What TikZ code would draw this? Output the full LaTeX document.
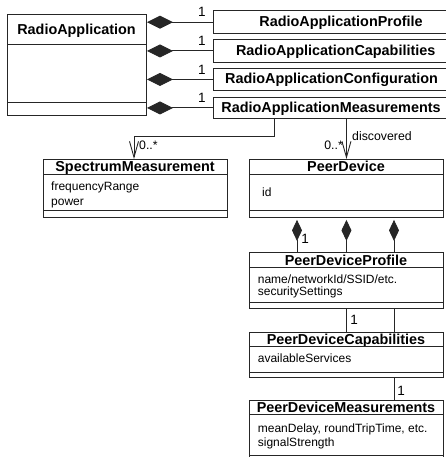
\documentclass[tikz,border=0pt]{standalone}
\usepackage{fontspec}
\setmainfont{Liberation Sans}
\usetikzlibrary{arrows.meta}
\begin{document}
\begin{tikzpicture}[x=1pt,y=-1pt,
  lc/.style={draw=black!85, line width=0.9pt},
  cls/.style={lc, rectangle, inner sep=0pt, anchor=north west},
  hdr/.style={font=\fontsize{14.4}{16}\selectfont\bfseries, anchor=base, inner sep=0pt},
  attr/.style={font=\fontsize{12}{15}\selectfont, anchor=base west, inner sep=0pt},
  lbl/.style={font=\fontsize{12.3}{14}\selectfont, inner sep=0pt},
  one/.style={font=\fontsize{13.5}{15}\selectfont, inner sep=0pt},
  hcomp/.style={lc, {Diamond[length=26pt,width=13pt]}-},
  vcomp/.style={lc, {Diamond[length=21pt,width=10pt]}-, shorten <=2pt},
  assoc/.style={lc, -{Straight Barb[length=16pt,width=9pt]}}]
\useasboundingbox (0,0) rectangle (446,457);

% RadioApplication
\node[cls, minimum width=139pt, minimum height=101pt] (ra) at (7,14.5) {};
\node[hdr] (raT) at (76.5,35) {RadioApplication};
\draw[lc] (7,44.5) -- (146,44.5);
\draw[lc] (7,102.5) -- (146,102.5);

% right boxes
\node[cls, minimum width=256pt, minimum height=22.5pt] (rap) at (213,10.5) {};
\node[hdr] (rapT) at (341,26.7) {RadioApplicationProfile};
\node[cls, minimum width=256pt, minimum height=23pt] (rac) at (213,39) {};
\node[hdr] (racT) at (335.7,55.5) {RadioApplicationCapabilities};
\node[cls, minimum width=256pt, minimum height=22pt] (racf) at (213,68) {};
\node[hdr] (racfT) at (331.5,84) {RadioApplicationConfiguration};
\node[cls, minimum width=256pt, minimum height=21pt] (ram) at (213,97) {};
\node[hdr] (ramT) at (331,112.5) {RadioApplicationMeasurements};

% compositions at top
\draw[hcomp] (ra.east |- rap.west) -- (rap.west);
\draw[hcomp] (ra.east |- rac.west) -- (rac.west);
\draw[hcomp] (ra.east |- racf.west) -- (racf.west);
\draw[hcomp] (ra.east |- ram.west) -- (ram.west);
\node[one] (o1) at (202,11.7) {1};
\node[one] (o2) at (202,40.7) {1};
\node[one] (o3) at (202,69.5) {1};
\node[one] (o4) at (202,98.3) {1};

% SpectrumMeasurement
\node[cls, minimum width=184pt, minimum height=58pt] (sm) at (43,159) {};
\node[hdr] (smT) at (135,171.6) {SpectrumMeasurement};
\draw[lc] (43,174.3) -- (227,174.3);
\draw[lc] (43,210) -- (227,210);
\node[attr] (smA1) at (51,190) {frequencyRange};
\node[attr] (smA2) at (51,205) {power};

% PeerDevice
\node[cls, minimum width=194pt, minimum height=58pt] (pd) at (249,159) {};
\node[hdr] (pdT) at (346,171.6) {PeerDevice};
\draw[lc] (249,174.3) -- (443,174.3);
\draw[lc] (249,210) -- (443,210);
\node[attr] (pdA) at (262,196) {id};

% associations
\coordinate (k1) at (274,136);
\coordinate (k2) at (134,136);
\draw[assoc] (ram.south -| k1) -- (k1) -- (k2) -- (sm.north -| k2);
\node[lbl, anchor=west] (m1) at (139,145) {0..*};
\draw[assoc] (ram.south -| pd.north) -- (pd.north);
\node[lbl, anchor=east] (m2) at (343,145) {0..*};
\node[lbl, anchor=west] (disc) at (352,136) {discovered};

% PeerDeviceProfile
\node[cls, minimum width=194pt, minimum height=56.3pt] (pdp) at (249,251.7) {};
\node[hdr] (pdpT) at (346,265.5) {PeerDeviceProfile};
\draw[lc] (249,267) -- (443,267);
\draw[lc] (249,302) -- (443,302);
\node[attr] (pdpA1) at (257.7,283) {name/networkId/SSID/etc.};
\node[attr] (pdpA2) at (257.7,295) {securitySettings};

% compositions PeerDevice -> Profile
\coordinate (c1) at (297,0);
\coordinate (c3) at (394,0);
\draw[vcomp] (pd.south -| c1) -- (pdp.north -| c1);
\draw[vcomp] (pd.south) -- (pdp.north);
\draw[vcomp] (pd.south -| c3) -- (pdp.north -| c3);
\node[one] (o5) at (305,239) {1};

% PeerDeviceCapabilities
\node[cls, minimum width=194pt, minimum height=45pt] (pdc) at (249,332) {};
\node[hdr] (pdcT) at (346,344) {PeerDeviceCapabilities};
\draw[lc] (249,346) -- (443,346);
\draw[lc] (249,372) -- (443,372);
\node[attr] (pdcA) at (257.7,362.5) {availableServices};

\draw[lc] (pdp.south) -- (pdc.north);
\draw[lc] (pdp.south -| c3) -- (pdc.north -| c3);
\node[one] (o6) at (354,320) {1};

% PeerDeviceMeasurements
\node[cls, minimum width=194pt, minimum height=70pt] (pdm) at (249,400) {};
\node[hdr] (pdmT) at (346,412.5) {PeerDeviceMeasurements};
\draw[lc] (249,414.5) -- (443,414.5);
\draw[lc] (249,455) -- (443,455);
\node[attr] (pdmA1) at (257.7,432) {meanDelay, roundTripTime, etc.};
\node[attr] (pdmA2) at (257.7,446) {signalStrength};

\draw[lc] (pdc.south -| c3) -- (pdm.north -| c3);
\node[one] (o7) at (401,390.5) {1};
\end{tikzpicture}
\end{document}
